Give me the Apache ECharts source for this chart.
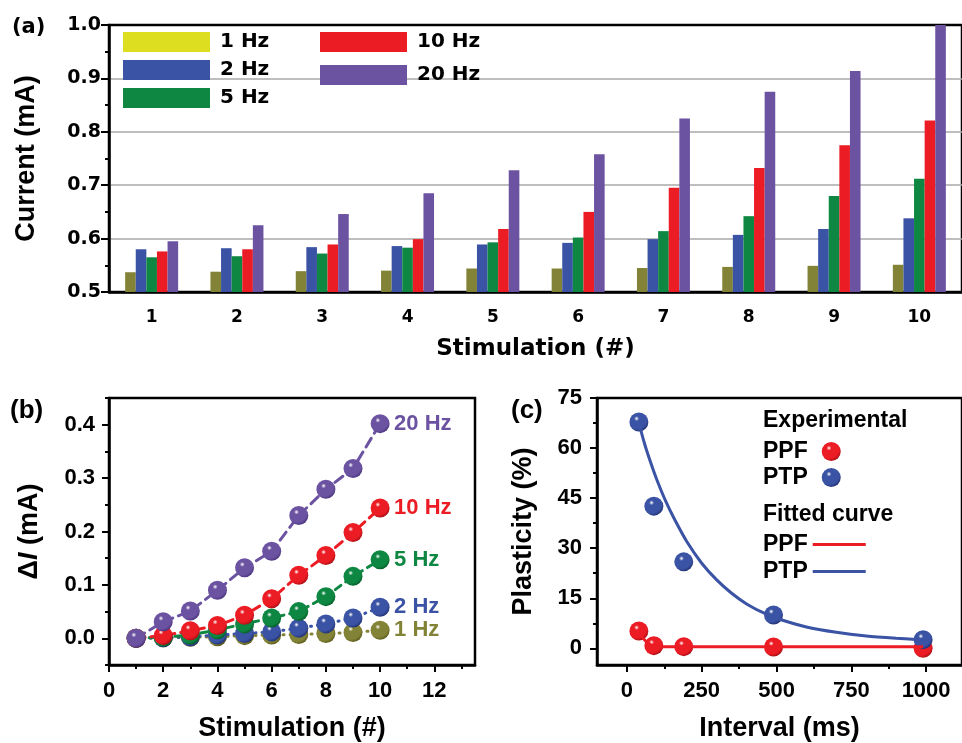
<!DOCTYPE html>
<html>
<head>
<meta charset="utf-8">
<script src="https://cdn.jsdelivr.net/npm/echarts@6/dist/echarts.min.js"></script>
<style>html,body{margin:0;padding:0;background:#fff}</style>
</head>
<body>
<div id="main" style="width:962px;height:743px"></div>
<script>
// (a) current per stimulation
var stimulation = ['1', '2', '3', '4', '5', '6', '7', '8', '9', '10'];
var current1Hz = [0.537, 0.538, 0.539, 0.540, 0.544, 0.544, 0.545, 0.547, 0.549, 0.551];
var current2Hz = [0.580, 0.582, 0.584, 0.586, 0.589, 0.592, 0.599, 0.607, 0.618, 0.638];
var current5Hz = [0.565, 0.567, 0.572, 0.583, 0.593, 0.602, 0.614, 0.642, 0.680, 0.712];
var current10Hz = [0.576, 0.580, 0.589, 0.599, 0.618, 0.650, 0.695, 0.732, 0.775, 0.821];
var current20Hz = [0.595, 0.625, 0.646, 0.685, 0.728, 0.758, 0.825, 0.875, 0.914, 1.000];

// (b) delta I vs stimulation number
var pulseNo = [1, 2, 3, 4, 5, 6, 7, 8, 9, 10];
var dI1Hz = [0, 0.001, 0.002, 0.003, 0.005, 0.006, 0.007, 0.009, 0.011, 0.015];
var dI2Hz = [0, 0.001, 0.003, 0.006, 0.009, 0.012, 0.019, 0.027, 0.038, 0.058];
var dI5Hz = [0, 0.002, 0.006, 0.016, 0.027, 0.038, 0.050, 0.078, 0.116, 0.147];
var dI10Hz = [0, 0.005, 0.014, 0.024, 0.043, 0.074, 0.118, 0.155, 0.198, 0.244];
var dI20Hz = [0, 0.031, 0.051, 0.090, 0.132, 0.163, 0.230, 0.279, 0.318, 0.402];

// (c) plasticity vs interval
var intervalMs = [40, 90, 190, 490, 990];
var ppf = [5.2, 0.8, 0.5, 0.4, 0.0];
var ptp = [67.8, 42.6, 25.9, 10.0, 2.6];
var ppfFitX = [40, 50, 60, 70, 80, 90, 120, 200, 500, 990];
var ppfFitY = [5.2, 3.6, 2.4, 1.6, 1.0, 0.7, 0.5, 0.5, 0.5, 0.5];
var ptpFitX = [40, 60, 80, 100, 130, 160, 200, 250, 300, 350, 400, 450, 500, 600, 700, 800, 900, 990];
var ptpFitY = [67.5, 61, 55.5, 50.5, 44, 38.5, 32, 25.5, 20.5, 16.5, 13.3, 10.9, 9.0, 6.4, 4.8, 3.7, 3.0, 2.5];

var cOlive = '#838337', cBlue = '#3a53a4', cGreen = '#0e8742', cRed = '#ec1c24', cPurple = '#6c53a2';
var FA = 'DejaVu Sans', FB = 'Liberation Sans';

function zip(xs, ys) {
    var out = [];
    for (var i = 0; i < xs.length; i++) out.push([xs[i], ys[i]]);
    return out;
}
function sphere(base, dark) {
    return {
        type: 'radial', x: 0.38, y: 0.32, r: 0.72,
        colorStops: [
            {offset: 0, color: '#ffffff'},
            {offset: 0.18, color: base},
            {offset: 0.75, color: base},
            {offset: 1, color: dark}
        ]
    };
}
function txt(size, fam) {
    return {fontSize: size, fontWeight: 'bold', fontFamily: fam, color: '#000'};
}
var axLine = {onZero: false, lineStyle: {color: '#000', width: 2.5}};
var noLine = {show: false, onZero: false};
var tickStyle = {color: '#000', width: 2};

var chart = echarts.init(document.getElementById('main'));

function barSeries(name, data, color) {
    return {
        name: name, type: 'bar', xAxisIndex: 0, yAxisIndex: 0,
        data: data, barWidth: 10.6, barGap: '0%',
        itemStyle: {color: color}
    };
}
function dSeries(name, label, data, color, dark, dash) {
    return {
        name: name, type: 'line', xAxisIndex: 2, yAxisIndex: 1,
        data: zip(pulseNo, data),
        symbol: 'circle', symbolSize: 19,
        itemStyle: {color: sphere(color, dark)},
        lineStyle: {color: color, width: 3, type: dash, cap: 'round'},
        endLabel: {show: true, formatter: label, distance: 14, fontSize: 22,
            fontWeight: 'bold', fontFamily: FB, color: color}
    };
}

var option = {
    animation: false,
    backgroundColor: '#fff',
    title: [
        {text: '(a)', left: 12, top: 17, padding: 0, textStyle: txt(21, FA)},
        {text: '(b)', left: 10, top: 398, padding: 0, textStyle: txt(26, FB)},
        {text: '(c)', left: 511, top: 398, padding: 0, textStyle: txt(26, FB)},
        {text: 'Experimental', left: 763, top: 409, padding: 0, textStyle: txt(23, FB)},
        {text: 'Fitted curve', left: 763, top: 503, padding: 0, textStyle: txt(23, FB)}
    ],
    legend: [
        {data: [{name: '1 Hz', itemStyle: {color: '#dede21'}}, '2 Hz', '5 Hz'],
            left: 123, top: 32, orient: 'vertical', icon: 'rect', itemWidth: 87, itemHeight: 20, itemGap: 8,
            padding: 0, textStyle: Object.assign(txt(20, FA), {padding: [0, 0, 0, 5]})},
        {data: ['10 Hz', '20 Hz'],
            left: 320, top: 32, orient: 'vertical', icon: 'rect', itemWidth: 87, itemHeight: 20, itemGap: 13,
            padding: 0, textStyle: Object.assign(txt(20, FA), {padding: [0, 0, 0, 5]})},
        {data: ['PPF', 'PTP'], left: 763, top: 440, orient: 'vertical', align: 'right',
            icon: 'circle', itemWidth: 19, itemHeight: 19, itemGap: 3, padding: 0,
            textStyle: Object.assign(txt(23, FB), {padding: [0, 9, 0, 0]})},
        {data: ['PPF fit', 'PTP fit'], left: 763, top: 533, orient: 'vertical', align: 'right',
            icon: 'rect', itemWidth: 53, itemHeight: 3, itemGap: 4, padding: 0,
            formatter: function (n) { return n.replace(' fit', ''); },
            textStyle: txt(23, FB)}
    ],
    grid: [
        {left: 109, top: 25, width: 859, height: 267, show: true, borderColor: '#000', borderWidth: 2.5},
        {left: 109, top: 398, width: 366, height: 268, show: true, borderColor: '#000', borderWidth: 2.5},
        {left: 597, top: 398, width: 372, height: 268, show: true, borderColor: '#000', borderWidth: 2.5}
    ],
    xAxis: [
        {type: 'category', gridIndex: 0, position: 'bottom', data: stimulation,
            axisLine: axLine,
            axisTick: {alignWithLabel: true, length: 6, lineStyle: tickStyle},
            axisLabel: Object.assign(txt(17, FA), {margin: 17}),
            name: 'Stimulation (#)', nameLocation: 'middle', nameGap: 46, nameTextStyle: txt(23, FA)},
        {type: 'category', gridIndex: 0, position: 'bottom', data: stimulation,
            axisLine: noLine, axisLabel: {show: false},
            axisTick: {length: 4, lineStyle: tickStyle}},
        {type: 'value', gridIndex: 1, position: 'bottom', min: 0, max: 13.5,
            axisLine: axLine, splitLine: {show: false},
            axisTick: {customValues: [0, 2, 4, 6, 8, 10, 12], length: 7, lineStyle: tickStyle},
            axisLabel: Object.assign(txt(22, FB), {margin: 15, customValues: [0, 2, 4, 6, 8, 10, 12]}),
            name: 'Stimulation (#)', nameLocation: 'middle', nameGap: 50, nameTextStyle: txt(27, FB)},
        {type: 'value', gridIndex: 1, position: 'bottom', min: 0, max: 13.5,
            axisLine: noLine, splitLine: {show: false}, axisLabel: {show: false},
            axisTick: {customValues: [1, 3, 5, 7, 9, 11, 13], length: 4, lineStyle: tickStyle}},
        {type: 'value', gridIndex: 2, position: 'bottom', min: -100, max: 1120,
            axisLine: axLine, splitLine: {show: false},
            axisTick: {customValues: [0, 250, 500, 750, 1000], length: 7, lineStyle: tickStyle},
            axisLabel: Object.assign(txt(22, FB), {margin: 15, customValues: [0, 250, 500, 750, 1000],
                formatter: function (v) { return String(v); }}),
            name: 'Interval (ms)', nameLocation: 'middle', nameGap: 50, nameTextStyle: txt(27, FB)},
        {type: 'value', gridIndex: 2, position: 'bottom', min: -100, max: 1120,
            axisLine: noLine, splitLine: {show: false}, axisLabel: {show: false},
            axisTick: {customValues: [125, 375, 625, 875], length: 4, lineStyle: tickStyle}}
    ],
    yAxis: [
        {type: 'value', gridIndex: 0, min: 0.5, max: 1.0, interval: 0.1,
            axisLine: {show: true, onZero: false, lineStyle: {color: '#000', width: 2.5}},
            axisTick: {show: true, length: 8, lineStyle: tickStyle},
            minorTick: {show: true, splitNumber: 2, length: 4, lineStyle: tickStyle},
            splitLine: {show: true, showMinLine: false, showMaxLine: false, lineStyle: {color: '#a8a8a8', width: 1.5}},
            axisLabel: Object.assign(txt(19, FA), {margin: 8, formatter: function (v) { return v.toFixed(1); }}),
            name: 'Current (mA)', nameLocation: 'middle', nameGap: 69, nameTextStyle: txt(27, FB)},
        {type: 'value', gridIndex: 1, position: 'left', min: -0.05, max: 0.45,
            axisLine: {show: true, onZero: false, lineStyle: {color: '#000', width: 2.5}}, splitLine: {show: false},
            axisTick: {show: true, customValues: [0, 0.1, 0.2, 0.3, 0.4], length: 7, lineStyle: tickStyle},
            axisLabel: Object.assign(txt(22, FB), {margin: 14, customValues: [0, 0.1, 0.2, 0.3, 0.4],
                formatter: function (v) { return v.toFixed(1); }}),
            name: '{d|Δ}{i|I}{d| (mA)}', nameLocation: 'middle', nameGap: 66,
            nameTextStyle: Object.assign(txt(27, FB), {rich: {
                d: txt(27, FB),
                i: Object.assign(txt(27, FB), {fontStyle: 'italic'})
            }})},
        {type: 'value', gridIndex: 1, position: 'left', min: -0.05, max: 0.45,
            axisLine: noLine, splitLine: {show: false}, axisLabel: {show: false},
            axisTick: {show: true, customValues: [-0.05, 0.05, 0.15, 0.25, 0.35, 0.45], length: 4,
                lineStyle: tickStyle}},
        {type: 'value', gridIndex: 2, position: 'left', min: -5, max: 75,
            axisLine: {show: true, onZero: false, lineStyle: {color: '#000', width: 2.5}}, splitLine: {show: false},
            axisTick: {show: true, customValues: [0, 15, 30, 45, 60, 75], length: 7, lineStyle: tickStyle},
            axisLabel: Object.assign(txt(22, FB), {margin: 15, customValues: [0, 15, 30, 45, 60, 75]}),
            name: 'Plasticity (%)', nameLocation: 'middle', nameGap: 60, nameTextStyle: txt(27, FB)},
        {type: 'value', gridIndex: 2, position: 'left', min: -5, max: 75,
            axisLine: noLine, splitLine: {show: false}, axisLabel: {show: false},
            axisTick: {show: true, customValues: [7.5, 22.5, 37.5, 52.5, 67.5], length: 4,
                lineStyle: tickStyle}}
    ],
    series: [
        barSeries('1 Hz', current1Hz, cOlive),
        barSeries('2 Hz', current2Hz, cBlue),
        barSeries('5 Hz', current5Hz, cGreen),
        barSeries('10 Hz', current10Hz, cRed),
        barSeries('20 Hz', current20Hz, cPurple),

        dSeries('dI 1 Hz', '1 Hz', dI1Hz, cOlive, '#5a5818', [1, 6]),
        dSeries('dI 2 Hz', '2 Hz', dI2Hz, cBlue, '#1f2f6e', [1, 6]),
        dSeries('dI 5 Hz', '5 Hz', dI5Hz, cGreen, '#055a26', [7, 6]),
        dSeries('dI 10 Hz', '10 Hz', dI10Hz, cRed, '#a30e14', [9, 6]),
        dSeries('dI 20 Hz', '20 Hz', dI20Hz, cPurple, '#46327a', [10, 6]),

        {name: 'PPF fit', type: 'line', xAxisIndex: 4, yAxisIndex: 3, data: zip(ppfFitX, ppfFitY),
            symbol: 'none', smooth: 0.2, lineStyle: {color: cRed, width: 3}, itemStyle: {color: cRed}},
        {name: 'PTP fit', type: 'line', xAxisIndex: 4, yAxisIndex: 3, data: zip(ptpFitX, ptpFitY),
            symbol: 'none', smooth: 0.2, lineStyle: {color: cBlue, width: 3}, itemStyle: {color: cBlue}},
        {name: 'PPF', type: 'scatter', xAxisIndex: 4, yAxisIndex: 3, data: zip(intervalMs, ppf),
            symbolSize: 19, itemStyle: {color: sphere(cRed, '#a30e14'), opacity: 1}},
        {name: 'PTP', type: 'scatter', xAxisIndex: 4, yAxisIndex: 3, data: zip(intervalMs, ptp),
            symbolSize: 19, itemStyle: {color: sphere(cBlue, '#1f2f6e'), opacity: 1}}
    ]
};
chart.setOption(option);
</script>
</body>
</html>
